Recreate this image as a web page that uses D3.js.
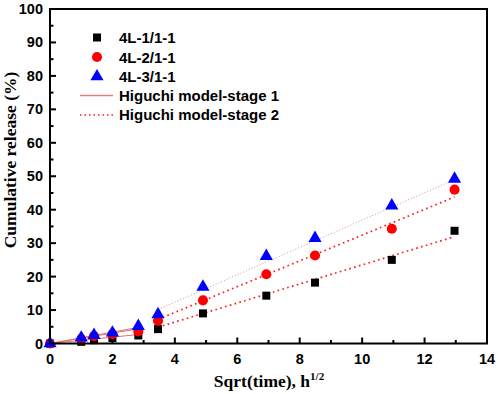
<!DOCTYPE html>
<html>
<head>
<meta charset="utf-8">
<script src="https://cdn.jsdelivr.net/npm/d3@7"></script>
<style>
  body { margin: 0; background: #fff; }
  svg text { font-family: "Liberation Sans", Arial, sans-serif; font-weight: bold; }
  .title { font-family: "Liberation Serif", "Times New Roman", serif; }
</style>
</head>
<body>
<svg id="chart" width="498" height="394"></svg>
<script>
// sqrt(time) sample points
const sqrtTime = [0, 1, 1.41, 2, 2.83, 3.46, 4.9, 6.93, 8.49, 10.95, 12.96]
const release1 = [0, 0.5, 1.0, 1.6, 2.4, 4.3, 9.0, 14.3, 18.2, 25.0, 33.7]
const release2 = [0, 1.3, 2.2, 2.8, 3.6, 6.8, 12.9, 20.7, 26.3, 34.3, 46.0]
const release3 = [0, 1.7, 2.5, 3.2, 5.2, 8.7, 16.9, 26.1, 31.5, 41.2, 49.2]
const seriesNames = ['4L-1/1-1', '4L-2/1-1', '4L-3/1-1']
// Higuchi fits: stage 1 through origin (0..2.83), stage 2 linear (3.46..12.96)
const stage1Slope = [0.95, 1.55, 1.7]
const stage2Slope = [2.85, 3.85, 4.09]
const stage2Intercept = [-5.0, -6.1, -4.0]
const stage1Range = [0, 2.83]
const stage2Range = [3.46, 12.96]
const xTicks = [0, 2, 4, 6, 8, 10, 12, 14]
const yTicks = [0, 10, 20, 30, 40, 50, 60, 70, 80, 90, 100]

const svg = d3.select('#chart')
const margin = {left: 50, right: 11, top: 9, bottom: 50.5}
const W = 498, H = 394
const x = d3.scaleLinear().domain([0, 14]).range([margin.left, W - margin.right])
const y = d3.scaleLinear().domain([0, 100]).range([H - margin.bottom, margin.top])

const colors = ['#000000', '#ff0000', '#0000ff']
const data = [release1, release2, release3]

// minor + major ticks, inward
const xMinor = d3.range(1, 14, 2)
const yMinor = d3.range(5, 100, 10)
const g = svg.append('g')

g.selectAll('.xmaj').data(xTicks).enter().append('line')
  .attr('x1', d => x(d)).attr('x2', d => x(d))
  .attr('y1', y(0)).attr('y2', y(0) - 6)
  .attr('stroke', '#000').attr('stroke-width', 2)
g.selectAll('.xmin').data(xMinor).enter().append('line')
  .attr('x1', d => x(d)).attr('x2', d => x(d))
  .attr('y1', y(0)).attr('y2', y(0) - 3.5)
  .attr('stroke', '#000').attr('stroke-width', 2)
g.selectAll('.ymaj').data(yTicks).enter().append('line')
  .attr('y1', d => y(d)).attr('y2', d => y(d))
  .attr('x1', x(0)).attr('x2', x(0) + 6)
  .attr('stroke', '#000').attr('stroke-width', 2)
g.selectAll('.ymin').data(yMinor).enter().append('line')
  .attr('y1', d => y(d)).attr('y2', d => y(d))
  .attr('x1', x(0)).attr('x2', x(0) + 3.5)
  .attr('stroke', '#000').attr('stroke-width', 2)

// tick labels
g.selectAll('.xl').data(xTicks).enter().append('text')
  .attr('x', d => x(d)).attr('y', y(0) + 20)
  .attr('text-anchor', 'middle').attr('font-size', 14.5)
  .text(d => d)
g.selectAll('.yl').data(yTicks).enter().append('text')
  .attr('x', x(0) - 7).attr('y', d => y(d) + 5)
  .attr('text-anchor', 'end').attr('font-size', 14.5)
  .text(d => d)

// fit lines
const line = d3.line().x(d => x(d[0])).y(d => y(d[1]))
stage1Slope.forEach((k, i) => {
  svg.append('path')
    .datum(stage1Range.map(t => [t, k * t]))
    .attr('d', line).attr('fill', 'none')
    .attr('stroke', '#e07070').attr('stroke-width', 1)
})
stage2Slope.forEach((k, i) => {
  svg.append('path')
    .datum(stage2Range.map(t => [t, k * t + stage2Intercept[i]]))
    .attr('d', line).attr('fill', 'none')
    .attr('stroke', i == 2 ? '#d89090' : '#ff2020')
    .attr('stroke-width', i == 2 ? 1 : 1.7)
    .attr('stroke-dasharray', i == 2 ? '1,2' : '1.7,3.3')
})

// markers
const symbols = [d3.symbolSquare, d3.symbolCircle, d3.symbolTriangle]
const sizes = [64, 80, 75]
data.forEach((vals, i) => {
  svg.append('g').selectAll('path').data(vals).enter().append('path')
    .attr('transform', (d, j) => `translate(${x(sqrtTime[j])},${y(d)})`)
    .attr('d', d3.symbol().type(symbols[i]).size(sizes[i]))
    .attr('fill', colors[i])
})

// frame
svg.append('rect')
  .attr('x', x(0)).attr('y', y(100))
  .attr('width', x(14) - x(0)).attr('height', y(0) - y(100))
  .attr('fill', 'none').attr('stroke', '#000').attr('stroke-width', 2)

// legend
const leg = svg.append('g')
const legY = [37.5, 57, 76.5]
seriesNames.forEach((n, i) => {
  leg.append('path')
    .attr('transform', `translate(97,${legY[i]})`)
    .attr('d', d3.symbol().type(symbols[i]).size(sizes[i]))
    .attr('fill', colors[i])
  leg.append('text').attr('x', 119).attr('y', legY[i] + 5.5)
    .attr('font-size', 15).text(n)
})
leg.append('line').attr('x1', 80).attr('x2', 113).attr('y1', 95.5).attr('y2', 95.5)
  .attr('stroke', '#e08080').attr('stroke-width', 1.5)
leg.append('text').attr('x', 119).attr('y', 100.5).attr('font-size', 15).text('Higuchi model-stage 1')
leg.append('line').attr('x1', 80).attr('x2', 113).attr('y1', 115).attr('y2', 115)
  .attr('stroke', '#ff2020').attr('stroke-width', 1.5).attr('stroke-dasharray', '1.5,3')
leg.append('text').attr('x', 119).attr('y', 120).attr('font-size', 15).text('Higuchi model-stage 2')

// axis titles
const xt = svg.append('text').attr('class', 'title')
  .attr('x', 269).attr('y', 387).attr('text-anchor', 'middle').attr('font-size', 17.5)
xt.append('tspan').text('Sqrt(time), h')
xt.append('tspan').attr('font-size', 11).attr('dy', -7).text('1/2')
svg.append('text').attr('class', 'title')
  .attr('transform', `translate(16,160) rotate(-90)`)
  .attr('text-anchor', 'middle').attr('font-size', 17.5)
  .text('Cumulative release (%)')
</script>
</body>
</html>
